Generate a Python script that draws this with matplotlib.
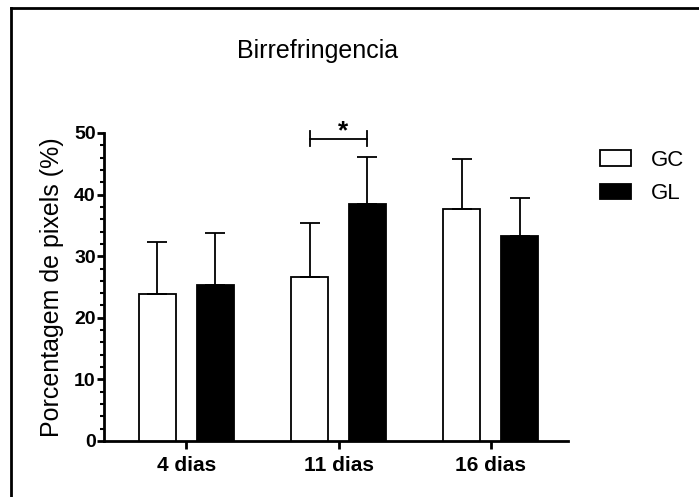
import matplotlib
matplotlib.use("Agg")
import matplotlib.pyplot as plt
from matplotlib.lines import Line2D
import numpy as np

plt.rcParams['font.family'] = ['Liberation Sans', 'DejaVu Sans']

categories = ["4 dias", "11 dias", "16 dias"]
gc_values = [23.9, 26.6, 37.6]
gc_err = [8.4, 8.8, 8.1]
gl_values = [25.3, 38.4, 33.2]
gl_err = [8.4, 7.7, 6.2]
series_names = ["GC", "GL"]

fig = plt.figure(figsize=(6.99, 4.97), dpi=100)
ax = fig.add_axes([0.149, 0.1127, 0.664, 0.6197])

x = np.arange(len(categories))
off = 0.19
w = 0.245

ax.bar(x - off, gc_values, w, color='white', edgecolor='black', linewidth=1.3,
       yerr=[np.zeros(3), gc_err], error_kw=dict(ecolor='black', elinewidth=1.3, capsize=7, capthick=1.3),
       label=series_names[0], zorder=3)
ax.bar(x + off, gl_values, w, color='black', edgecolor='black', linewidth=1.3,
       yerr=[np.zeros(3), gl_err], error_kw=dict(ecolor='black', elinewidth=1.3, capsize=7, capthick=1.3),
       label=series_names[1], zorder=3)

# significance bracket
yb = 49.1
ax.plot([1 - off, 1 + off], [yb, yb], color='black', lw=1.3, clip_on=False)
ax.plot([1 - off, 1 - off], [yb - 1.2, yb + 1.2], color='black', lw=1.3, clip_on=False)
ax.plot([1 + off, 1 + off], [yb - 1.2, yb + 1.2], color='black', lw=1.3, clip_on=False)
ax.text(1.03, 48.4, "*", ha='center', va='bottom', fontsize=19, fontweight='bold')

ax.set_xlim(-0.54, 2.51)
ax.set_ylim(0, 50)
ax.spines['top'].set_visible(False)
ax.spines['right'].set_visible(False)
ax.spines['left'].set_linewidth(2)
ax.spines['bottom'].set_linewidth(2)
ax.set_xticks(x)
ax.set_xticklabels(categories, fontsize=15, fontweight='bold')
ax.set_yticks([0, 10, 20, 30, 40, 50])
ax.set_yticklabels(["0", "10", "20", "30", "40", "50"], fontsize=14, fontweight='bold')
ax.set_yticks(np.arange(0, 51, 2), minor=True)
ax.tick_params(axis='y', which='major', length=5, width=2, pad=1)
ax.tick_params(axis='y', which='minor', length=3, width=1.5)
ax.tick_params(axis='x', which='major', length=6, width=2, pad=5)
ax.set_ylabel("Porcentagem de pixels (%)", fontsize=18, labelpad=7)

fig.text(0.455, 0.897, "Birrefringencia", ha='center', va='center', fontsize=18)

leg = ax.legend(loc='upper left', bbox_to_anchor=(1.025, 1.01), frameon=False, fontsize=16,
                handlelength=1.4, handleheight=0.7, handletextpad=0.9, labelspacing=0.55)

# partial outer frame
fig.add_artist(Line2D([11/699, 11/699], [0, 1 - 8/497], transform=fig.transFigure, color='black', lw=2))
fig.add_artist(Line2D([11/699, 1], [1 - 8/497, 1 - 8/497], transform=fig.transFigure, color='black', lw=2))

fig.savefig("out.png", dpi=100)
